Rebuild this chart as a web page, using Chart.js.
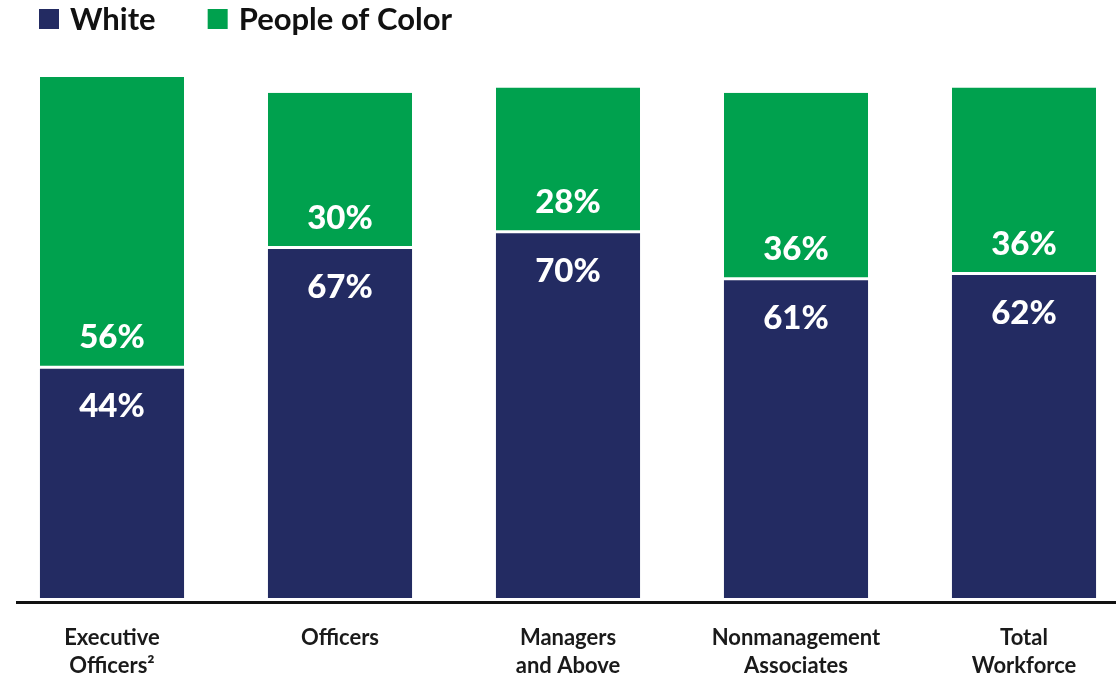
<!DOCTYPE html>
<html>
<head>
<meta charset="utf-8">
<script src="https://cdn.jsdelivr.net/npm/chart.js@4"></script>
<style>
  html, body { margin: 0; padding: 0; background: #fff; overflow: hidden; }
  #wrap { position: relative; left: -2px; width: 1140px; height: 682px; }
</style>
</head>
<body>
<div id="wrap"><canvas id="grafico"></canvas></div>
<script>
const categorias = [
    ['Executive', 'Officers²'],
    'Officers',
    ['Managers', 'and Above'],
    ['Nonmanagement', 'Associates'],
    ['Total', 'Workforce']
];
const valoresWhite = [44, 67, 70, 61, 62];
const valoresPoc = [56, 30, 28, 36, 36];

const corWhite = '#232b62';
const corPoc = '#00a14e';

// legenda desenhada à mão, alinhada à esquerda
const legendaPlugin = {
    id: 'legenda',
    afterDraw(chart) {
        const ctx = chart.ctx;
        ctx.save();
        ctx.font = 'bold 31px Lato';
        ctx.textBaseline = 'middle';
        let x = 41;
        chart.data.datasets.forEach(ds => {
            ctx.fillStyle = ds.backgroundColor;
            ctx.fillRect(x, 9, 20, 20);
            ctx.fillStyle = '#111';
            ctx.fillText(ds.label, x + 31, 20);
            x += 31 + ctx.measureText(ds.label).width + 52;
        });
        ctx.restore();
    }
};

// rótulos de percentual dentro das barras + linha do eixo
const rotulosPlugin = {
    id: 'rotulos',
    afterDatasetsDraw(chart) {
        const ctx = chart.ctx;
        ctx.save();
        ctx.font = '900 33px Lato';
        ctx.fillStyle = '#fff';
        ctx.textAlign = 'center';
        ctx.textBaseline = 'middle';
        const metaWhite = chart.getDatasetMeta(0);
        const metaPoc = chart.getDatasetMeta(1);
        metaWhite.data.forEach((bar, i) => {
            ctx.fillText(valoresWhite[i] + '%', bar.x, bar.y + 38);
        });
        metaPoc.data.forEach((bar, i) => {
            ctx.fillText(valoresPoc[i] + '%', bar.x, bar.base - 31);
        });

        ctx.strokeStyle = '#111';
        ctx.lineWidth = 3;
        ctx.beginPath();
        ctx.moveTo(18, chart.chartArea.bottom + 4.5);
        ctx.lineTo(chart.width, chart.chartArea.bottom + 4.5);
        ctx.stroke();
        ctx.restore();
    }
};

const ctx = document.getElementById('grafico').getContext('2d');
new Chart(ctx, {
    type: 'bar',
    data: {
        labels: categorias,
        datasets: [
            {
                label: 'White',
                data: valoresWhite,
                backgroundColor: corWhite,
                borderWidth: 0
            },
            {
                label: 'People of Color',
                data: valoresPoc,
                backgroundColor: corPoc,
                borderColor: '#fff',
                borderWidth: { top: 0, bottom: 3, left: 0, right: 0 },
                borderSkipped: false
            }
        ]
    },
    plugins: [legendaPlugin, rotulosPlugin],
    options: {
        responsive: true,
        maintainAspectRatio: false,
        animation: false,
        barPercentage: 0.632,
        categoryPercentage: 1,
        layout: {
            padding: { top: 77, bottom: 0, left: 0, right: 0 }
        },
        scales: {
            x: {
                stacked: true,
                grid: { display: false },
                border: { display: false },
                afterFit(scale) {
                    scale.height = 84;
                },
                ticks: {
                    color: '#1a1a1a',
                    padding: 18,
                    maxRotation: 0,
                    autoSkip: false,
                    font: { family: 'Lato', size: 22, weight: 'bold', lineHeight: '28px' }
                }
            },
            y: {
                stacked: true,
                display: false,
                min: 0,
                max: 100
            }
        },
        plugins: {
            legend: { display: false },
            tooltip: { enabled: false }
        }
    }
});
</script>
</body>
</html>
